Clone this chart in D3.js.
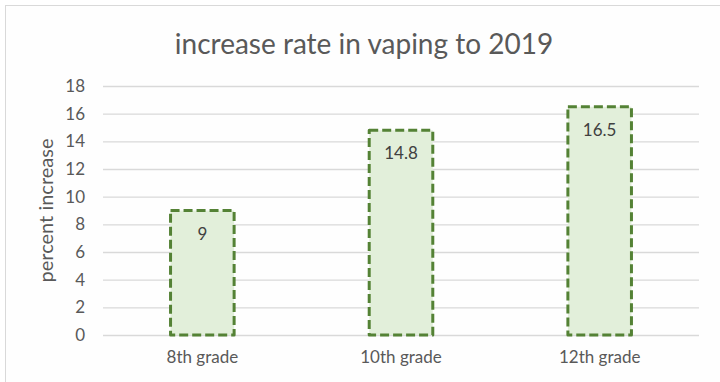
<!DOCTYPE html>
<html>
<head>
<meta charset="utf-8">
<script src="https://cdn.jsdelivr.net/npm/d3@7"></script>
<style>
  body { margin: 0; background: #fff; }
  text { font-family: Lato, "Open Sans", sans-serif; }
</style>
</head>
<body>
<svg id="chart" width="720" height="382"></svg>
<script>
  const grades = ["8th grade", "10th grade", "12th grade"];
  const increases = [9, 14.8, 16.5];
  const yTicks = [0, 2, 4, 6, 8, 10, 12, 14, 16, 18];

  const svg = d3.select("#chart");

  // chart frame (right and bottom edges run off the picture)
  svg
    .append("rect")
    .attr("x", 5.5)
    .attr("y", 5.5)
    .attr("width", 730)
    .attr("height", 400)
    .attr("fill", "#fefefe")
    .attr("stroke", "#d9d9d9");

  const margin = { top: 86, right: 21, bottom: 47, left: 103 };
  const width = 720 - margin.left - margin.right;
  const height = 382 - margin.top - margin.bottom;

  const g = svg
    .append("g")
    .attr("transform", `translate(${margin.left},${margin.top})`);

  const x = d3.scaleBand().domain(grades).range([0, width]).paddingInner(0.68).paddingOuter(0.34);
  const y = d3.scaleLinear().domain([0, 18]).range([height, 0]);

  // gridlines and y tick labels
  g.append("g")
    .call(d3.axisLeft(y).tickValues(yTicks).tickSize(-width).tickPadding(18))
    .call((a) => a.select(".domain").remove())
    .call((a) => a.selectAll("line").attr("stroke", "#d9d9d9").attr("stroke-width", 1.3))
    .call((a) =>
      a.selectAll("text").attr("fill", "#595959").style("font-size", "17px").attr("font-family", "Lato, sans-serif")
    );

  // x category labels
  g.append("g")
    .attr("transform", `translate(0,${height})`)
    .call(d3.axisBottom(x).tickSize(0).tickPadding(16))
    .call((a) => a.select(".domain").remove())
    .call((a) =>
      a.selectAll("text").attr("fill", "#595959").style("font-size", "17px").attr("font-family", "Lato, sans-serif")
    );

  // bars
  g.selectAll("rect.bar")
    .data(grades)
    .join("rect")
    .attr("class", "bar")
    .attr("x", (d) => x(d))
    .attr("y", (d, i) => y(increases[i]))
    .attr("width", x.bandwidth())
    .attr("height", (d, i) => height - y(increases[i]))
    .attr("fill", "#e2efda")
    .attr("stroke", "#548235")
    .attr("stroke-width", 3)
    .attr("stroke-dasharray", "9,4")
    .attr("stroke-linejoin", "round");

  // value labels
  g.selectAll("text.val")
    .data(grades)
    .join("text")
    .attr("class", "val")
    .attr("x", (d) => x(d) + x.bandwidth() / 2)
    .attr("y", (d, i) => y(increases[i]) + 29)
    .attr("text-anchor", "middle")
    .attr("fill", "#404040")
    .style("font-size", "17px")
    .text((d, i) => increases[i]);

  // title
  svg
    .append("text")
    .attr("x", 364)
    .attr("y", 54)
    .attr("text-anchor", "middle")
    .attr("fill", "#595959")
    .style("font-size", "28px")
    .text("increase rate in vaping to 2019");

  // y axis title
  svg
    .append("text")
    .attr("transform", `translate(53,${margin.top + height / 2}) rotate(-90)`)
    .attr("text-anchor", "middle")
    .attr("fill", "#595959")
    .style("font-size", "20px")
    .text("percent increase");
</script>
</body>
</html>
